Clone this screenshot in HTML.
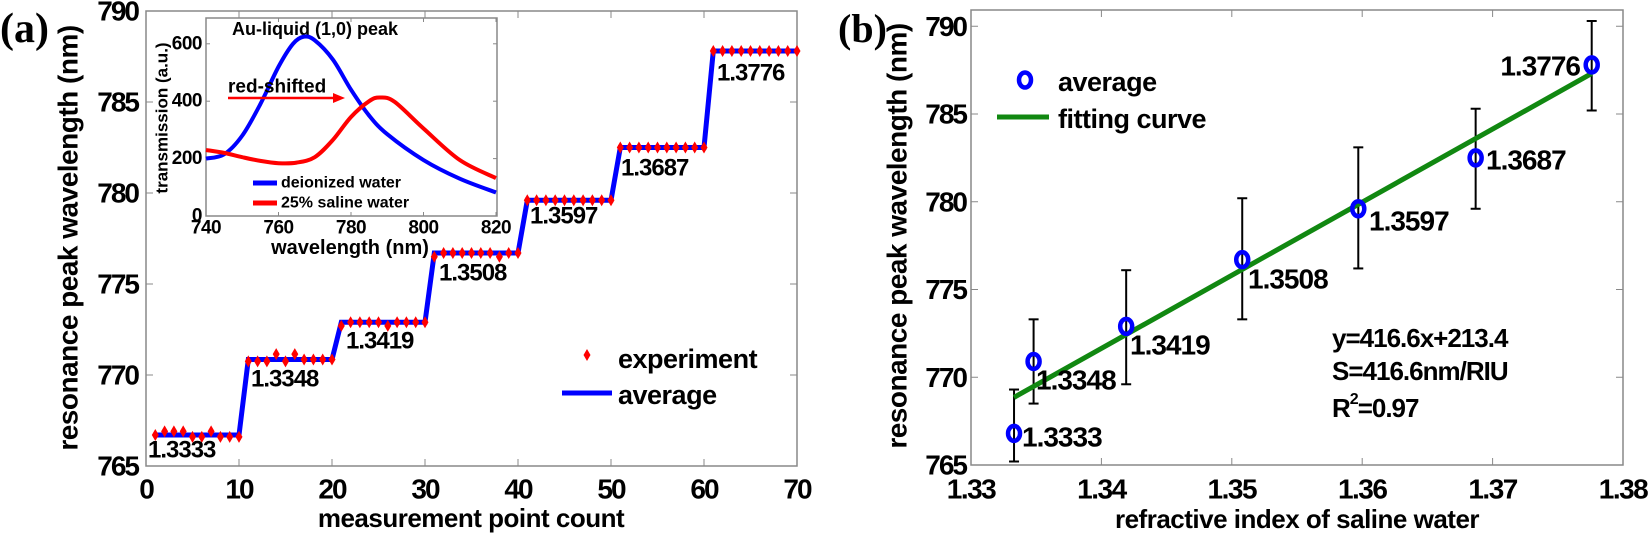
<!DOCTYPE html>
<html><head><meta charset="utf-8"><style>
html,body{margin:0;padding:0;background:#fff;}
svg text{font-family:"Liberation Sans",Arial,sans-serif;font-weight:bold;fill:#000;}
</style></head><body>
<svg id="s" width="1650" height="534" viewBox="0 0 1650 534" xmlns="http://www.w3.org/2000/svg"></svg>
<script>
const S=document.getElementById('s');let h='';
function T(x,y,t,sz,anch,extra){h+=`<text x="${x}" y="${y}" font-size="${sz}" text-anchor="${anch||'start'}" dominant-baseline="central" ${extra||''}>${t}</text>`;}
function smooth(P){let d=`M${P[0][0]},${P[0][1]}`;for(let i=0;i<P.length-1;i++){const p0=P[Math.max(0,i-1)],p1=P[i],p2=P[i+1],p3=P[Math.min(P.length-1,i+2)];const c1=[p1[0]+(p2[0]-p0[0])/6,p1[1]+(p2[1]-p0[1])/6],c2=[p2[0]-(p3[0]-p1[0])/6,p2[1]-(p3[1]-p1[1])/6];d+=`C${c1[0]},${c1[1]} ${c2[0]},${c2[1]} ${p2[0]},${p2[1]}`;}return d;}
// Panel a
const ax=v=>146+(v)*9.3, ay=v=>466-(v-765)*18.2;
h+=`<rect x="146" y="11" width="651" height="455" fill="#fff" stroke="#888" stroke-width="1.5"/>`;
for(let i=0;i<=70;i+=10){let x=ax(i);h+=`<line x1="${x}" y1="466" x2="${x}" y2="459" stroke="#888"/><line x1="${x}" y1="11" x2="${x}" y2="18" stroke="#888"/>`;T(x,489,i,28,'middle','letter-spacing="-2"');}
for(let v=765;v<=790;v+=5){let y=ay(v);h+=`<line x1="146" y1="${y}" x2="153" y2="${y}" stroke="#888"/><line x1="797" y1="${y}" x2="790" y2="${y}" stroke="#888"/>`;T(138,y,v,28,'end','letter-spacing="-2"');}
T(471,518,'measurement point count',26,'middle','letter-spacing="-0.5"');
T(0,0,'resonance peak wavelength (nm)',28,'middle','transform="translate(68,238) rotate(-90)" letter-spacing="-0.5"');
h+=`<text x="0" y="42" font-size="42" style="font-family:'Liberation Serif',serif;font-weight:bold">(a)</text>`;
const avg=[766.7,770.85,772.9,776.7,779.6,782.5,787.8];
const noise=[[0,.2,.2,.2,-.1,-.1,.2,-.1,-.1,-.1],[-.1,-.1,-.1,.3,-.1,.3,0,0,0,0],[-.2,0,0,0,0,-.2,0,0,0,0],[-.2,0,0,0,0,0,0,-.2,0,0],[0,0,0,0,0,0,0,0,0,0],[0,0,0,0,0,0,0,0,0,0],[0,0,0,0,0,0,0,0,0,0]];
let pts=[];
for(let k=0;k<7;k++){pts.push([ax(k*10+1),ay(avg[k])]);pts.push([ax(k*10+10),ay(avg[k])]);}
h+=`<polyline points="${pts.map(p=>p.join(',')).join(' ')}" fill="none" stroke="#0000ff" stroke-width="5"/>`;
function dia(x,y,s){s=s||1;h+=`<path d="M${x},${y-6*s}L${x+3.5*s},${y}L${x},${y+6*s}L${x-3.5*s},${y}Z" fill="#ff0000"/>`;}
for(let k=0;k<7;k++)for(let j=0;j<10;j++)dia(ax(k*10+j+1),ay(avg[k]+noise[k][j]));
const la=[['1.3333',148,450],['1.3348',251,379],['1.3419',346,341],['1.3508',439,273],['1.3597',530,216],['1.3687',621,168],['1.3776',717,73]];
la.forEach(l=>T(l[1],l[2],l[0],24,'start','letter-spacing="-1"'));
dia(587,355);T(618,359,'experiment',27,'start','letter-spacing="-0.5"');
h+=`<line x1="562" y1="393" x2="612" y2="393" stroke="#0000ff" stroke-width="5"/>`;T(618,395,'average',27,'start','letter-spacing="-0.5"');
// inset
const ix=v=>206+(v-740)*3.625, iy=v=>216-v*0.287;
h+=`<rect x="206" y="18" width="291" height="198" fill="#fff" stroke="#888" stroke-width="1.5"/>`;
for(let v=740;v<=820;v+=20){let x=ix(v);h+=`<line x1="${x}" y1="216" x2="${x}" y2="212" stroke="#888"/><line x1="${x}" y1="18" x2="${x}" y2="22" stroke="#888"/>`;T(x,228,v,19,'middle','letter-spacing="-0.5"');}
for(let v=0;v<=600;v+=200){let y=iy(v);h+=`<line x1="206" y1="${y}" x2="210" y2="${y}" stroke="#888"/><line x1="497" y1="${y}" x2="493" y2="${y}" stroke="#888"/>`;T(202,y,v,19,'end','letter-spacing="-0.5"');}
T(350,248,'wavelength (nm)',20,'middle');
T(0,0,'transmission (a.u.)',17,'middle','transform="translate(162,118) rotate(-90)"');
T(232,29,'Au-liquid (1,0) peak',18,'start');
const B=[[740,200],[745,215],[750,280],[755,390],[760,520],[764,600],[767,625],[770,612],[775,545],[780,440],[785,350],[790,285],[800,195],[810,130],[820,82]];
const R=[[740,230],[745,220],[750,205],[755,192],[760,184],[765,186],[770,205],[775,265],[780,345],[785,400],[788,413],[792,398],[800,305],[810,195],[820,132]];
h+=`<path d="${smooth(B.map(p=>[ix(p[0]),iy(p[1])]))}" fill="none" stroke="#0000ff" stroke-width="4"/>`;
h+=`<path d="${smooth(R.map(p=>[ix(p[0]),iy(p[1])]))}" fill="none" stroke="#ff0000" stroke-width="4"/>`;
T(228,87,'red-shifted',19,'start');
h+=`<line x1="228" y1="98" x2="336" y2="98" stroke="#ff0000" stroke-width="2.5"/><path d="M345,98L333,93L333,103Z" fill="#ff0000"/>`;
h+=`<line x1="253" y1="183" x2="277" y2="183" stroke="#0000ff" stroke-width="5"/><line x1="253" y1="203" x2="277" y2="203" stroke="#ff0000" stroke-width="5"/>`;
T(281,183,'deionized water',16,'start');T(281,203,'25% saline water',16,'start');
// Panel b
const bx=v=>971+(v-1.33)*13040, by=v=>465-(v-765)*17.55;
h+=`<rect x="971" y="10" width="652" height="455" fill="#fff" stroke="#888" stroke-width="1.5"/>`;
['1.33','1.34','1.35','1.36','1.37','1.38'].forEach(t=>{let x=bx(+t);h+=`<line x1="${x}" y1="465" x2="${x}" y2="458" stroke="#888"/><line x1="${x}" y1="10" x2="${x}" y2="17" stroke="#888"/>`;T(x,489,t,28,'middle','letter-spacing="-1.5"');});
for(let v=765;v<=790;v+=5){let y=by(v);h+=`<line x1="971" y1="${y}" x2="978" y2="${y}" stroke="#888"/><line x1="1623" y1="${y}" x2="1616" y2="${y}" stroke="#888"/>`;T(966,y,v,28,'end','letter-spacing="-2"');}
T(1297,519,'refractive index of saline water',26,'middle','letter-spacing="-0.5"');
T(0,0,'resonance peak wavelength (nm)',28,'middle','transform="translate(897,236) rotate(-90)" letter-spacing="-0.5"');
h+=`<text x="838" y="42" font-size="40" style="font-family:'Liberation Serif',serif;font-weight:bold">(b)</text>`;
const D=[[1.3333,766.8,765.2,769.3],[1.3348,770.9,768.5,773.3],[1.3419,772.9,769.6,776.1],[1.3508,776.7,773.3,780.2],[1.3597,779.6,776.2,783.1],[1.3687,782.5,779.6,785.3],[1.3776,787.8,785.2,790.3]];
D.forEach(d=>{let x=bx(d[0]);h+=`<line x1="${x}" y1="${by(d[2])}" x2="${x}" y2="${by(d[3])}" stroke="#000" stroke-width="2"/><line x1="${x-5}" y1="${by(d[2])}" x2="${x+5}" y2="${by(d[2])}" stroke="#000" stroke-width="2"/><line x1="${x-5}" y1="${by(d[3])}" x2="${x+5}" y2="${by(d[3])}" stroke="#000" stroke-width="2"/>`;});
h+=`<line x1="${bx(1.3333)}" y1="${by(416.6*1.3333+213.4)}" x2="${bx(1.3776)}" y2="${by(416.6*1.3776+213.4)}" stroke="#118811" stroke-width="5"/>`;
D.forEach(d=>{h+=`<ellipse cx="${bx(d[0])}" cy="${by(d[1])}" rx="6" ry="7.5" fill="none" stroke="#0000ff" stroke-width="4.5"/>`;});
const lb=[['1.3333',1022,437,'start'],['1.3348',1036,380,'start'],['1.3419',1130,345,'start'],['1.3508',1248,279,'start'],['1.3597',1369,221,'start'],['1.3687',1486,160,'start'],['1.3776',1580,66,'end']];
lb.forEach(l=>T(l[1],l[2],l[0],28,l[3],'letter-spacing="-1"'));
h+=`<ellipse cx="1025" cy="80" rx="6" ry="7.5" fill="none" stroke="#0000ff" stroke-width="4.5"/>`;T(1058,82,'average',27,'start','letter-spacing="-0.5"');
h+=`<line x1="997" y1="117" x2="1049" y2="117" stroke="#118811" stroke-width="5"/>`;T(1058,119,'fitting curve',27,'start','letter-spacing="-0.5"');
T(1332,338,'y=416.6x+213.4',26,'start','letter-spacing="-1"');T(1332,371,'S=416.6nm/RIU',26,'start','letter-spacing="-1"');
h+=`<text x="1332" y="408" font-size="26" letter-spacing="-1" dominant-baseline="central">R<tspan dy="-9" font-size="16">2</tspan><tspan dy="9">=0.97</tspan></text>`;
S.innerHTML=h;
</script>
</body></html>
